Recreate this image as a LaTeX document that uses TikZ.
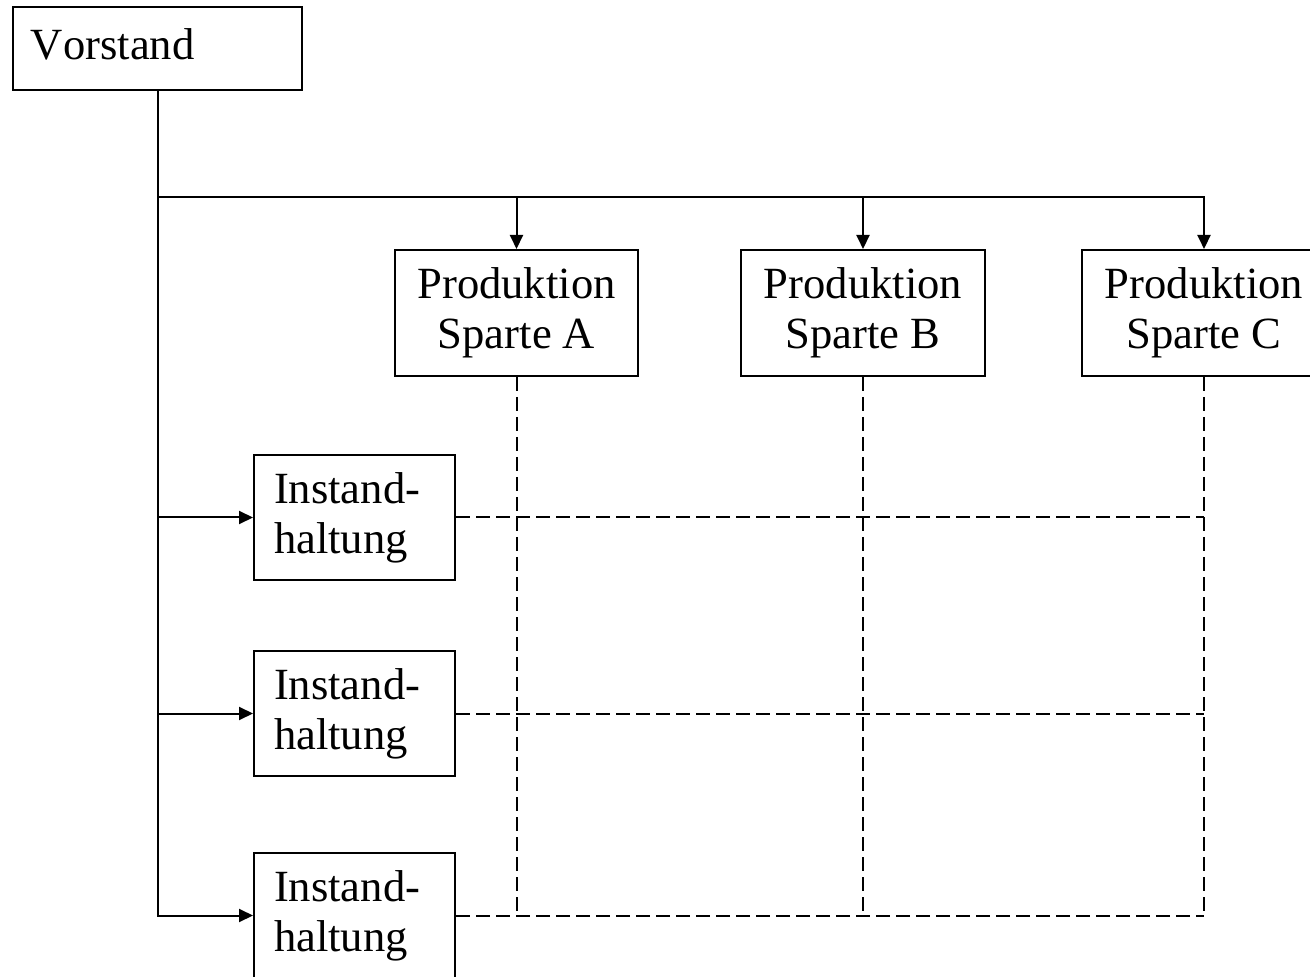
\documentclass[tikz,border=0pt]{standalone}
\usepackage{fontspec}
\setmainfont[Kerning=Off]{Liberation Serif}
\usetikzlibrary{arrows.meta}
\begin{document}
\begin{tikzpicture}[x=0.5pt,y=-0.5pt,
  line width=1pt,
  every node/.style={font=\fontsize{22.3pt}{25pt}\selectfont},
  unit/.style={draw, rectangle, inner sep=0pt},
  leftbox/.style={unit, align=left, inner xsep=10pt},
  arr/.style={-{Triangle[length=7pt,width=6.5pt]}},
  link/.style={dash pattern=on 7pt off 3pt}]
\useasboundingbox (0,0) rectangle (1310,977);

% top management
\node[leftbox, inner xsep=9pt, minimum width=144.5pt, minimum height=41.5pt,
  text width=126.5pt, text depth=4pt]
  (V) at (157.5,48.5) {Vorstand};

% production divisions
\node[unit, align=center, minimum width=121.5pt, minimum height=63pt]
  (PA) at (516.5,313) {Produktion\\Sparte A};
\node[unit, align=center, minimum width=122pt, minimum height=63pt]
  (PB) at (863,313) {Produktion\\Sparte B};
\node[unit, align=center, minimum width=122pt, minimum height=63pt]
  (PC) at (1204,313) {Produktion\\Sparte C};

% maintenance units
\foreach \n/\y in {I1/517.5, I2/713.5, I3/915.5}
  \node[leftbox, minimum width=100.5pt, minimum height=62.5pt, text width=80.5pt]
    (\n) at (354.5,\y) {Instand-\\haltung};

% line connections
\coordinate (bus) at (0,197);
\draw[arr] (V.south) |- (I3.west);
\draw[arr] (V.south |- I1.west) -- (I1.west);
\draw[arr] (V.south |- I2.west) -- (I2.west);
\draw[arr] (V.south |- bus) -| (PC.north);
\draw[arr] (PA.north |- bus) -- (PA.north);
\draw[arr] (PB.north |- bus) -- (PB.north);

% matrix links
\foreach \p in {PA, PB, PC}
  \draw[link] (\p.south) -- (\p.south |- I3.east);
\foreach \i in {I1, I2, I3}
  \draw[link] (\i.east) -- (PC.south |- \i.east);
\end{tikzpicture}
\end{document}
